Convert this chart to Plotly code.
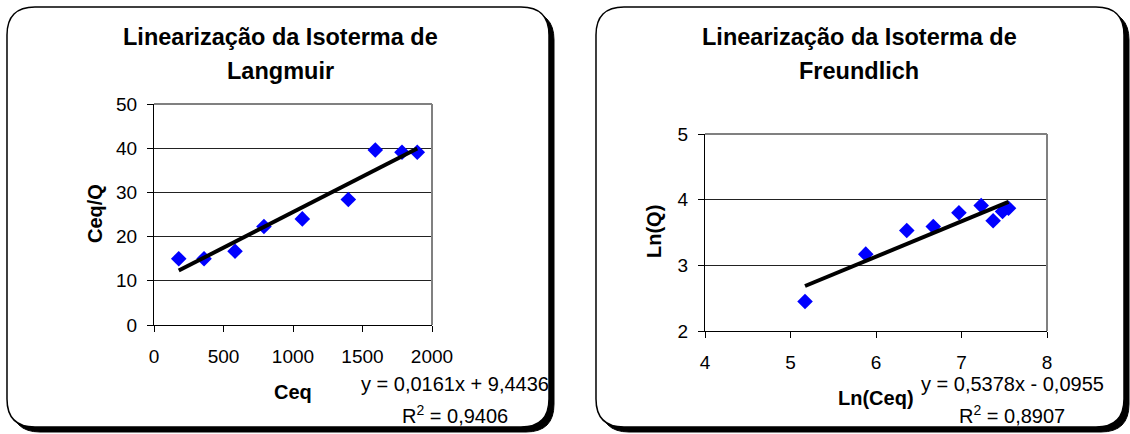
import plotly.graph_objects as go

# Langmuir linearisation: Ceq vs Ceq/Q
ceq = [178, 360, 583, 791, 1067, 1398, 1592, 1784, 1894]
ceq_q = [15.0, 15.0, 16.7, 22.3, 24.0, 28.4, 39.6, 39.1, 39.1]
lang_slope, lang_icpt = 0.0161, 9.4436
lang_eq = ["y = 0,0161x + 9,4436", "R<sup>2</sup> = 0,9406"]

# Freundlich linearisation: Ln(Ceq) vs Ln(Q)
ln_ceq = [5.17, 5.88, 6.36, 6.67, 6.97, 7.23, 7.37, 7.48, 7.55]
ln_q = [2.45, 3.17, 3.53, 3.59, 3.80, 3.91, 3.68, 3.82, 3.87]
freu_slope, freu_icpt = 0.5378, -0.0955
freu_eq = ["y = 0,5378x - 0,0955", "R<sup>2</sup> = 0,8907"]

W, H = 1130, 434
FONT = "Liberation Sans, Arial, sans-serif"


def px(x):
    return x / W


def py(y):
    return 1 - y / H


def rounded_box(x0, y0, x1, y1, r):
    pts = [("M", x0 + r, y0), ("L", x1 - r, y0), ("Q", x1, y0, x1, y0 + r),
           ("L", x1, y1 - r), ("Q", x1, y1, x1 - r, y1), ("L", x0 + r, y1),
           ("Q", x0, y1, x0, y1 - r), ("L", x0, y0 + r), ("Q", x0, y0, x0 + r, y0)]
    out = []
    for p in pts:
        cmd, coords = p[0], p[1:]
        xy = []
        for i in range(0, len(coords), 2):
            xy.append(f"{px(coords[i]):.5f},{py(coords[i + 1]):.5f}")
        out.append(cmd + " " + " ".join(xy))
    return " ".join(out) + " Z"


def trend(xs, slope, icpt):
    x = [min(xs), max(xs)]
    return x, [slope * v + icpt for v in x]


fig = go.Figure()

# panel frames (shadow + white box)
shapes = []
for (x0, y0, x1, y1) in [(7, 7, 549, 427), (596, 7, 1124, 427)]:
    shapes.append(dict(type="path", xref="paper", yref="paper", layer="below",
                       path=rounded_box(x0 + 5, y0 + 5, x1 + 5, y1 + 5, 28),
                       fillcolor="black", line=dict(color="black", width=1)))
    shapes.append(dict(type="path", xref="paper", yref="paper", layer="below",
                       path=rounded_box(x0, y0, x1, y1, 28),
                       fillcolor="white", line=dict(color="black", width=1.5)))

fig.add_trace(go.Scatter(x=ceq, y=ceq_q, mode="markers", xaxis="x", yaxis="y",
                         marker=dict(symbol="diamond", size=12, color="#0000FF"),
                         showlegend=False))
tx, ty = trend(ceq, lang_slope, lang_icpt)
fig.add_trace(go.Scatter(x=tx, y=ty, mode="lines", xaxis="x", yaxis="y",
                         line=dict(color="black", width=4), showlegend=False))

fig.add_trace(go.Scatter(x=ln_ceq, y=ln_q, mode="markers", xaxis="x2", yaxis="y2",
                         marker=dict(symbol="diamond", size=12, color="#0000FF"),
                         showlegend=False))
tx, ty = trend(ln_ceq, freu_slope, freu_icpt)
fig.add_trace(go.Scatter(x=tx, y=ty, mode="lines", xaxis="x2", yaxis="y2",
                         line=dict(color="black", width=4), showlegend=False))

axis_common = dict(showline=True, linecolor="black", linewidth=1, ticks="outside",
                   ticklen=6, tickcolor="black", tickwidth=1, zeroline=False,
                   automargin=False,
                   tickfont=dict(family=FONT, size=19, color="black"))
xcommon = dict(axis_common, showgrid=False, ticklabelstandoff=8)
ycommon = dict(axis_common, showgrid=True, gridcolor="#222222", gridwidth=1,
               ticklabelstandoff=6)

fig.update_layout(
    autosize=True, margin=dict(l=0, r=0, t=0, b=0, autoexpand=False),
    paper_bgcolor="white", plot_bgcolor="#C0C0C0",
    xaxis=dict(xcommon, domain=[px(154), px(432)], range=[0, 2000], dtick=500,
               anchor="y"),
    yaxis=dict(ycommon, domain=[py(325), py(104)], range=[0, 50], dtick=10,
               anchor="x"),
    xaxis2=dict(xcommon, domain=[px(705), px(1047)], range=[4, 8], dtick=1,
                anchor="y2"),
    yaxis2=dict(ycommon, domain=[py(331), py(134)], range=[2, 5], dtick=1,
                anchor="x2"),
)

# gray border on top/right of plot areas
for xa, ya in [("x", "y"), ("x2", "y2")]:
    shapes.append(dict(type="line", xref=f"{xa} domain", yref=f"{ya} domain",
                       x0=0, x1=1, y0=1, y1=1, line=dict(color="#808080", width=2)))
    shapes.append(dict(type="line", xref=f"{xa} domain", yref=f"{ya} domain",
                       x0=1, x1=1, y0=0, y1=1, line=dict(color="#808080", width=2)))
fig.update_layout(shapes=shapes)


def note(text, x, y, size, bold=False, angle=0):
    fig.add_annotation(text=f"<b>{text}</b>" if bold else text,
                       x=px(x), y=py(y), xref="paper", yref="paper",
                       xanchor="center", yanchor="middle", showarrow=False,
                       textangle=angle,
                       font=dict(family=FONT, size=size, color="black"))


note("Linearização da Isoterma de", 280, 37, 23.5, bold=True)
note("Langmuir", 280, 71, 23.5, bold=True)
note("Linearização da Isoterma de", 859, 37, 23.5, bold=True)
note("Freundlich", 859, 71, 23.5, bold=True)

note("Ceq", 293, 392, 20, bold=True)
note("Ceq/Q", 95, 214, 20, bold=True, angle=-90)
note("Ln(Ceq)", 876, 398, 20, bold=True)
note("Ln(Q)", 654, 232, 20, bold=True, angle=-90)

note(lang_eq[0], 455, 384, 20)
note(lang_eq[1], 455, 414, 20)
note(freu_eq[0], 1012, 384, 20)
note(freu_eq[1], 1012, 414, 20)

# pin the graph to the window and let it fill the viewport exactly
pin = ("document.body.style.margin='0';"
       "var d=document.getElementById('{plot_id}');"
       "d.style.position='fixed';d.style.top='0';d.style.left='0';"
       "Plotly.Plots.resize(d);")
fig.write_html("out.html", config={"displayModeBar": False, "responsive": True},
               default_width="100vw", default_height="100vh", post_script=pin)
